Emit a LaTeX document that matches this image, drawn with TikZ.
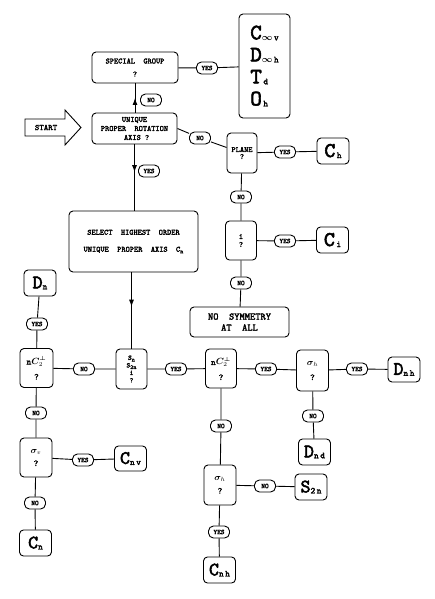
\documentclass[tikz,border=0pt]{standalone}
\usepackage{amsmath,amssymb,bm}
\usepackage{fontspec}
\setmonofont{lmmono10-regular.otf}[BoldFont=lmmono10-regular.otf, BoldFeatures={FakeBold=2.5}]
\usetikzlibrary{arrows.meta,positioning,decorations.markings}

\newcommand{\pg}[3][20]{{\fontsize{#1}{#1}\selectfont #2}\raisebox{-1pt}{\fontsize{9}{9}\selectfont #3}}
\newcommand{\lowtxt}[1]{\raisebox{-1.5pt}{\fontsize{6}{6}\selectfont #1}}

\tikzset{
  ask/.style={draw, line width=0.9pt, rounded corners=4pt, fill=white, align=center, inner sep=1pt,
    font=\ttfamily\bfseries\fontsize{8}{9}\selectfont},
  pill/.style={draw, line width=0.9pt, rounded corners=5pt, fill=white, inner sep=1pt,
    minimum width=21pt, minimum height=12pt, font=\ttfamily\bfseries\fontsize{7}{7}\selectfont},
  grp/.style={draw, line width=0.9pt, rounded corners=4pt, fill=white, inner sep=0pt,
    minimum width=32pt, minimum height=26pt, font=\ttfamily\bfseries},
  link/.style={line width=0.9pt},
  midarrow/.style={postaction={decorate}, decoration={markings,
    mark=at position #1 with {\arrow{Latex[length=7pt,width=5pt]}}}},
}

\begin{document}
\begin{tikzpicture}[x=1pt,y=-1pt]
    \useasboundingbox (0,0) rectangle (434,599);

    % start arrow
    \draw[line width=0.9pt] (25,119) -- (65,119) -- (65,110) -- (81,127.5) -- (65,145) -- (65,136) -- (25,136) -- cycle;
    \node[font=\ttfamily\bfseries\fontsize{8.5}{9}\selectfont] (start) at (46,127.5) {START};

    % top part
    \node[ask, minimum width=86pt, minimum height=31pt, font=\ttfamily\bfseries\fontsize{8}{13}\selectfont] (special) at (135,67.5) {SPECIAL~~GROUP\\?};
    \node[grp, minimum width=51pt, minimum height=104pt, align=left, font=\ttfamily\bfseries\fontsize{22}{22}\selectfont] (cubic) at (264.5,66)
        {\pg[22]{C}{$\bm{\infty}$\,v}\\\pg[22]{D}{$\bm{\infty}$\,h}\\\pg[22]{T}{\,d}\\\pg[22]{O}{\,h}};
    \node[pill] (y1) at (207,68) {YES};
    \node[ask, minimum width=85pt, minimum height=31pt] (unique) at (134.5,128.5) {UNIQUE\\PROPER~~ROTATION\\~AXIS~?};
    \node[pill] (n1) at (151,100) {NO};

    % no axis branch
    \node[pill] (n2) at (200,138) {NO};
    \node[ask, minimum width=30pt, minimum height=40pt] (plane) at (242,153) {PLANE\\[-2pt]?};
    \node[pill] (y2) at (285,152) {YES};
    \node[grp] (ch) at (333,151) {\pg[21]{C}{\,h}};
    \node[pill] (n3) at (241,197) {NO};
    \node[ask, minimum width=31pt, minimum height=39pt] (inv) at (241,240.5) {i\\[-1pt]?};
    \node[pill] (y3) at (285,241) {YES};
    \node[grp] (ci) at (332.5,240) {\pg[21]{C}{\,i}};
    \node[pill] (n4) at (241,283) {NO};
    \node[ask, minimum width=99pt, minimum height=30pt, font=\ttfamily\bfseries\fontsize{10}{11}\selectfont] (nosym) at (239.5,322) {NO~~SYMMETRY\\AT~~ALL};

    % main axis
    \node[pill] (y4) at (149,171) {YES};
    \node[ask, minimum width=129pt, minimum height=61pt, font=\ttfamily\bfseries\fontsize{8}{17}\selectfont] (select) at (133.5,241.5)
        {SELECT~~HIGHEST~~ORDER\\UNIQUE~~PROPER~~AXIS~~C\lowtxt{n}};

    % row of tests
    \node[ask, minimum width=31pt, minimum height=40pt, font=\ttfamily\bfseries\fontsize{7}{7.5}\selectfont] (sn) at (131.5,369) {S\lowtxt{n}\\S\lowtxt{2n}\\i\\?};
    \node[pill] (n5) at (84,369) {NO};
    \node[ask, minimum width=33pt, minimum height=39pt, font=\ttfamily\bfseries\fontsize{9}{15}\selectfont] (ncl) at (36.5,368) {n$\bm{C}_2^{\bm\perp}$\\?};
    \node[pill] (y5) at (37,324) {YES};
    \node[grp, font=\ttfamily\bfseries] (dn) at (40,283) {\pg[19]{D}{n}};
    \node[pill] (y6) at (176,369) {YES};
    \node[ask, minimum width=31pt, minimum height=39pt, font=\ttfamily\bfseries\fontsize{9}{15}\selectfont] (ncr) at (221,368.5) {n$\bm{C}_2^{\bm\perp}$\\?};
    \node[pill] (y7) at (266,369) {YES};
    \node[ask, minimum width=32pt, minimum height=41pt, font=\ttfamily\bfseries\fontsize{9}{15}\selectfont] (sigh) at (312.5,370.5) {$\bm{\sigma}_h$\\?};
    \node[pill] (y8) at (357,369) {YES};
    \node[grp, minimum height=25pt] (dnh) at (404,369.5) {\pg[19]{D}{n\,h}};
    \node[pill] (n10) at (313,416) {NO};
    \node[grp] (dnd) at (314.5,452) {\pg[19]{D}{n\,d}};

    % left column
    \node[pill] (n6) at (36,413) {NO};
    \node[ask, minimum width=32pt, minimum height=39pt, font=\ttfamily\bfseries\fontsize{9}{13}\selectfont] (sigv) at (36,457.5) {$\bm{\sigma}_v$\\?};
    \node[pill] (y9) at (83,460) {YES};
    \node[grp, minimum height=25pt] (cnv) at (130.5,458.5) {\pg[19]{C}{n\,v}};
    \node[pill] (n7) at (35,503) {NO};
    \node[grp] (cn) at (35.5,543) {\pg[19]{C}{n}};

    % middle column
    \node[pill] (n8) at (221,426) {NO};
    \node[ask, minimum width=32pt, minimum height=40pt, font=\ttfamily\bfseries\fontsize{9}{13}\selectfont] (sigh2) at (220,485) {$\bm{\sigma}_h$\\?};
    \node[pill] (n9) at (265,486) {NO};
    \node[grp] (s2n) at (311,487) {\pg[19]{S}{2\,n}};
    \node[pill] (y10) at (219,532) {YES};
    \node[grp] (cnh) at (219.5,570) {\pg[19]{C}{n\,h}};

    % connectors
    \draw[link] (special) -- (y1) -- (cubic);
    \draw[link, midarrow=0.5] (unique.north -| special.south) -- (special.south);
    \draw[link] (unique.east) -- (n2) -- (plane);
    \draw[link] (plane) -- (y2) -- (ch);
    \draw[link] (plane) -- (n3) -- (inv);
    \draw[link] (inv) -- (y3) -- (ci);
    \draw[link] (inv) -- (n4) -- (nosym);
    \draw[link, midarrow=0.42] (unique.south) -- (unique.south |- select.north);
    \draw[link, midarrow=0.45] (sn.north |- select.south) -- (sn.north);
    \draw[link] (dn) -- (y5) -- (ncl);
    \draw[link] (ncl) -- (n5) -- (sn);
    \draw[link] (sn) -- (y6) -- (ncr) -- (y7) -- (sigh) -- (y8) -- (dnh);
    \draw[link] (sigh) -- (n10) -- (dnd);
    \draw[link] (ncl) -- (n6) -- (sigv);
    \draw[link] (sigv) -- (y9) -- (cnv);
    \draw[link] (sigv) -- (n7) -- (cn);
    \draw[link] (ncr) -- (n8) -- (sigh2);
    \draw[link] (sigh2) -- (n9) -- (s2n);
    \draw[link] (sigh2) -- (y10) -- (cnh);
\end{tikzpicture}
\end{document}
